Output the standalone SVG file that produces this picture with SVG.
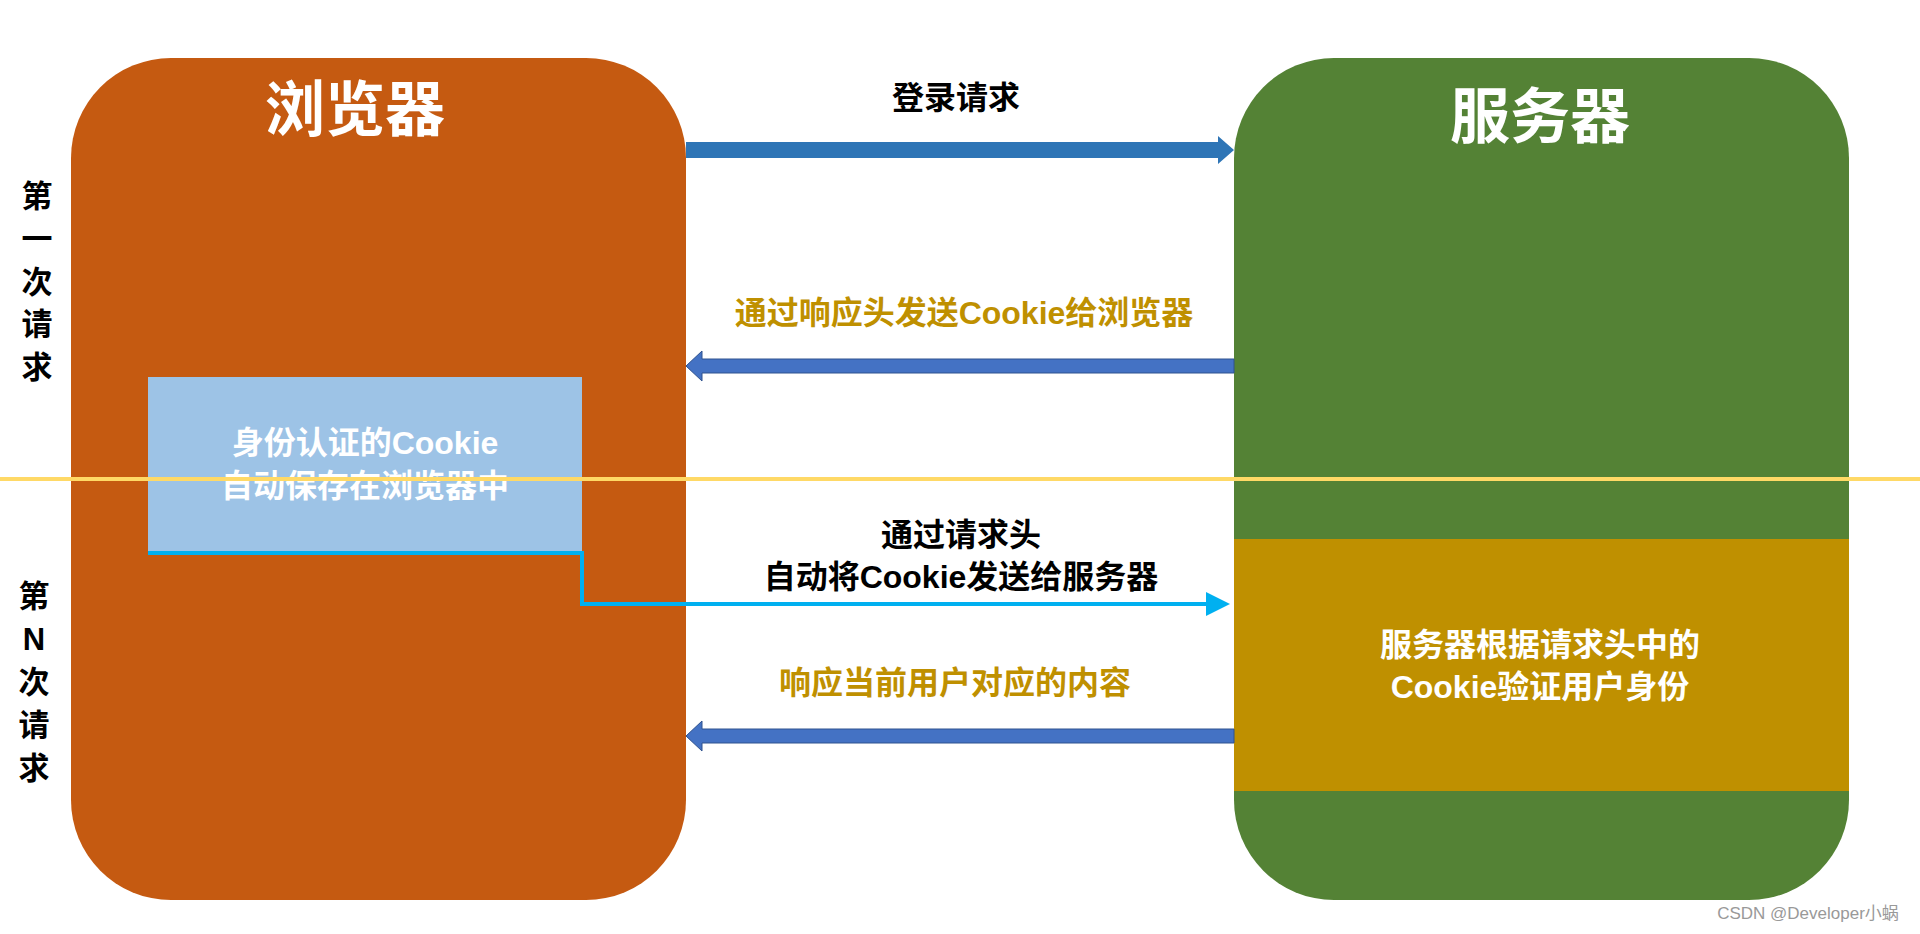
<svg xmlns="http://www.w3.org/2000/svg" width="1920" height="934" viewBox="0 0 1920 934">
<style>
text{font-family:"Liberation Sans","Noto Sans CJK SC",sans-serif;font-weight:bold;text-anchor:middle;dominant-baseline:central}
.t{font-size:60px;fill:#fff}
.m{font-size:32px;fill:#000}
.g{font-size:32px;fill:#BF9000}
.w{font-size:32px;fill:#fff}
.v{font-size:31px;fill:#000}
</style>
<defs>
<marker id="a" markerWidth="6" markerHeight="6" refX="4" refY="3" orient="auto" markerUnits="strokeWidth"><path d="M0,0L6,3L0,6z" fill="#00B0F0"/></marker>
</defs>
<rect width="1920" height="934" fill="#fff"/>
<g id="browser"><rect x="71" y="58" width="615" height="842" rx="100" fill="#C55A11"/><text class="t" x="355" y="110">浏览器</text></g>
<g id="server"><rect x="1234" y="58" width="615" height="842" rx="100" fill="#548235"/><text class="t" x="1540" y="117">服务器</text>
<rect x="1234" y="539" width="615" height="252" fill="#BF9000"/>
<text class="w" x="1540" y="645">服务器根据请求头中的</text><text class="w" x="1540" y="687">Cookie验证用户身份</text></g>
<g id="cookie"><rect x="148" y="377" width="434" height="176" fill="#9DC3E6"/>
<text class="w" x="365" y="443">身份认证的Cookie</text><text class="w" x="365" y="486">自动保存在浏览器中</text></g>
<line x1="0" y1="479" x2="1920" y2="479" stroke="#FFD966" stroke-width="4"/>
<g id="labels">
<text class="v" x="37" y="196">第</text><text class="v" x="37" y="239">一</text><text class="v" x="37" y="282">次</text><text class="v" x="37" y="324">请</text><text class="v" x="37" y="367">求</text>
<text class="v" x="34" y="596">第</text><text class="v" x="34" y="639">N</text><text class="v" x="34" y="682">次</text><text class="v" x="34" y="725">请</text><text class="v" x="34" y="768">求</text>
<text class="m" x="956" y="98">登录请求</text>
<text class="g" x="964" y="313">通过响应头发送Cookie给浏览器</text>
<text class="m" x="961" y="535">通过请求头</text>
<text class="m" x="961" y="577">自动将Cookie发送给服务器</text>
<text class="g" x="955" y="683">响应当前用户对应的内容</text>
</g>
<g id="connectors">
<path d="M686,142H1218V136L1234,150L1218,164V158H686z" fill="#2E75B6"/>
<path d="M1234,359H702V351L686,366L702,381V373H1234z" fill="#4472C4" stroke="#2F528F" stroke-width="1"/>
<path d="M1234,729H702V721L686,736L702,751V743H1234z" fill="#4472C4" stroke="#2F528F" stroke-width="1"/>
<polyline points="148,553 582,553 582,604 1222,604" fill="none" stroke="#00B0F0" stroke-width="4" marker-end="url(#a)"/>
</g>
<text x="1808" y="913" style="font-size:17px;fill:#999;font-weight:normal">CSDN @Developer小蜗</text>
</svg>
